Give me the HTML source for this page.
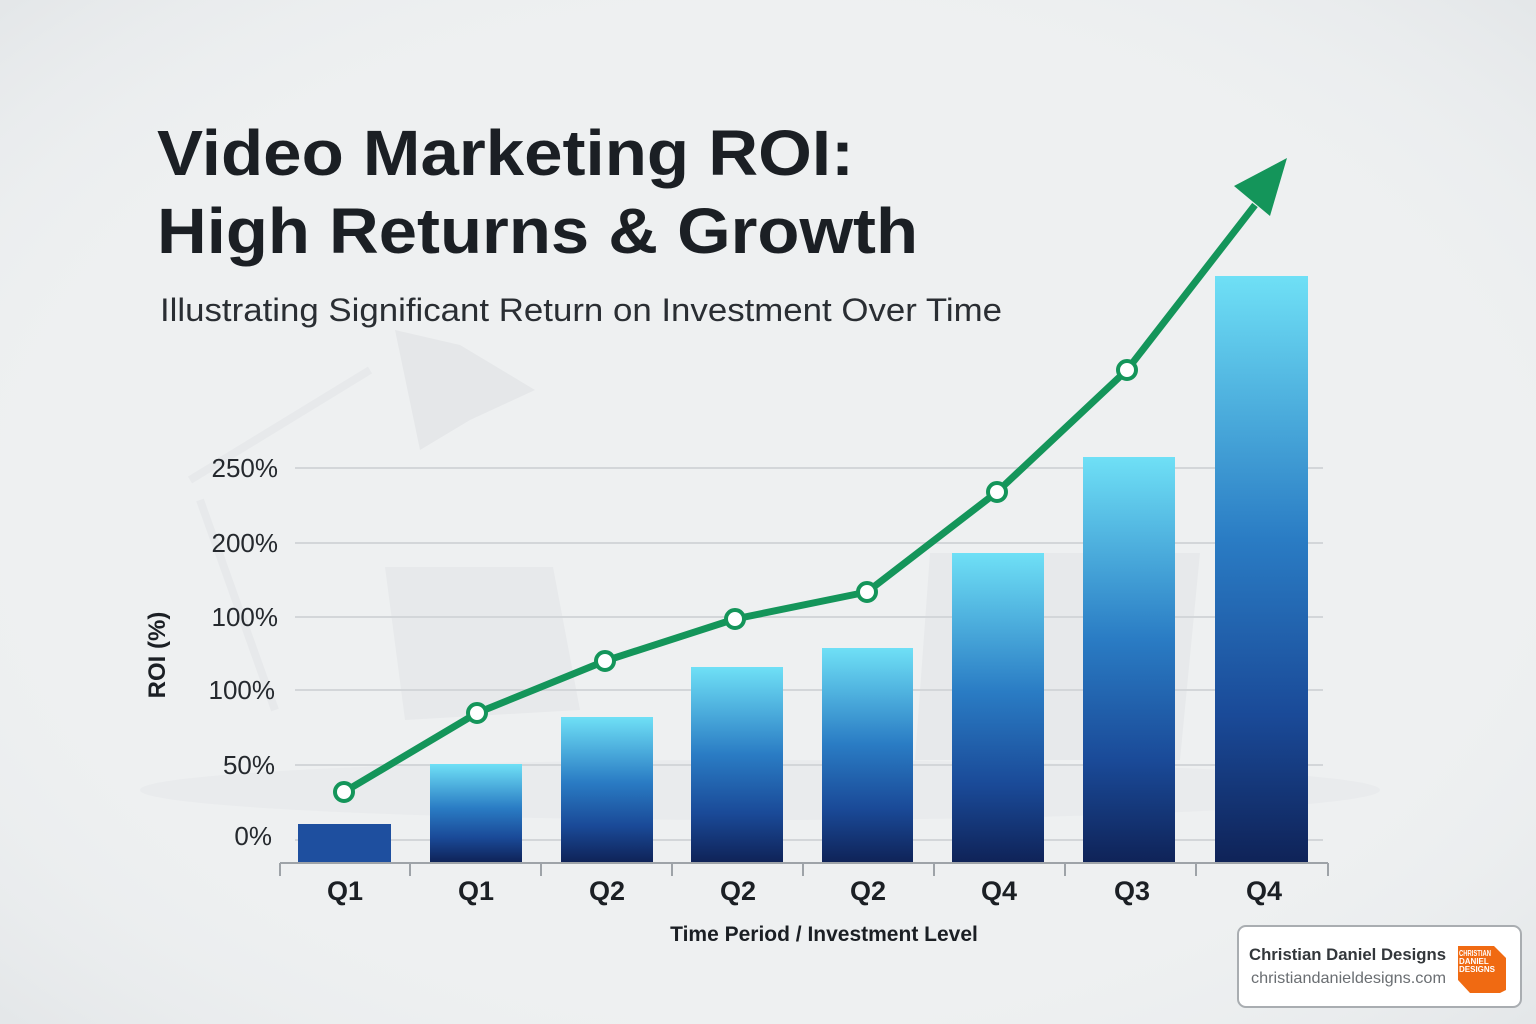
<!DOCTYPE html>
<html><head><meta charset="utf-8"><style>
html,body{margin:0;padding:0;width:1536px;height:1024px;overflow:hidden;background:#eef0f1;}
svg{display:block;font-family:"Liberation Sans",sans-serif;}
</style></head><body>
<svg width="1536" height="1024" viewBox="0 0 1536 1024" xmlns="http://www.w3.org/2000/svg">
<defs>
<linearGradient id="bg" x1="0" y1="0" x2="0" y2="1">
<stop offset="0" stop-color="#6fe0f6"/><stop offset="0.45" stop-color="#2a7cc4"/><stop offset="0.75" stop-color="#1a4a98"/><stop offset="1" stop-color="#0f2358"/>
</linearGradient>
<radialGradient id="vig" cx="0.5" cy="0.5" r="0.7"><stop offset="0.6" stop-color="#f0f2f3" stop-opacity="0"/><stop offset="1" stop-color="#e4e7e9"/></radialGradient>
</defs>
<rect width="1536" height="1024" fill="#eef0f1"/>
<rect width="1536" height="1024" fill="url(#vig)"/>
<!-- faint background objects -->
<path d="M395 330 L460 345 L535 390 L470 420 L420 450 Z" fill="#e5e7e9"/>
<path d="M190 480 L370 370 M200 500 L275 710" stroke="#e7e9eb" stroke-width="8" fill="none"/>
<path d="M385 567 L553 567 L580 710 L405 720 Z" fill="#e7e9eb"/>
<path d="M930 553 L1200 553 L1180 760 L915 760 Z" fill="#e7e9eb"/>
<ellipse cx="760" cy="790" rx="620" ry="30" fill="#e9ebed"/>
<!-- title -->
<text x="157" y="175" font-size="64" font-weight="bold" fill="#1b1f24" textLength="697" lengthAdjust="spacingAndGlyphs">Video Marketing ROI:</text>
<text x="157" y="253" font-size="64" font-weight="bold" fill="#1b1f24" textLength="761" lengthAdjust="spacingAndGlyphs">High Returns &amp; Growth</text>
<text x="160" y="321" font-size="32" fill="#2a2e33" textLength="842" lengthAdjust="spacingAndGlyphs">Illustrating Significant Return on Investment Over Time</text>
<!-- grid -->
<g stroke="#d3d6d9" stroke-width="2">
<line x1="295" y1="468" x2="1323" y2="468"/><line x1="295" y1="543" x2="1323" y2="543"/>
<line x1="295" y1="617" x2="1323" y2="617"/><line x1="295" y1="690" x2="1323" y2="690"/>
<line x1="295" y1="765" x2="1323" y2="765"/><line x1="295" y1="840" x2="1323" y2="840"/>
</g>
<g font-size="26" fill="#25292e" text-anchor="end">
<text x="278" y="477">250%</text><text x="278" y="552">200%</text><text x="278" y="626">100%</text>
<text x="275" y="699">100%</text><text x="275" y="774">50%</text><text x="272" y="845">0%</text>
</g>
<text transform="translate(165,655) rotate(-90)" font-size="24" font-weight="bold" fill="#1b1f24" text-anchor="middle">ROI (%)</text>
<!-- bars -->
<rect x="298" y="824" width="93" height="38" fill="#1e4f9f"/>
<rect x="430" y="764" width="92" height="98" fill="url(#bg)"/>
<rect x="561" y="717" width="92" height="145" fill="url(#bg)"/>
<rect x="691" y="667" width="92" height="195" fill="url(#bg)"/>
<rect x="822" y="648" width="91" height="214" fill="url(#bg)"/>
<rect x="952" y="553" width="92" height="309" fill="url(#bg)"/>
<rect x="1083" y="457" width="92" height="405" fill="url(#bg)"/>
<rect x="1215" y="276" width="93" height="586" fill="url(#bg)"/>
<!-- axis -->
<g stroke="#9ea3a8" stroke-width="2">
<line x1="280" y1="863" x2="1328" y2="863"/>
<line x1="280" y1="863" x2="280" y2="876"/><line x1="410" y1="863" x2="410" y2="876"/>
<line x1="541" y1="863" x2="541" y2="876"/><line x1="672" y1="863" x2="672" y2="876"/>
<line x1="803" y1="863" x2="803" y2="876"/><line x1="934" y1="863" x2="934" y2="876"/>
<line x1="1065" y1="863" x2="1065" y2="876"/><line x1="1196" y1="863" x2="1196" y2="876"/>
<line x1="1328" y1="863" x2="1328" y2="876"/>
</g>
<g font-size="27" font-weight="bold" fill="#1b1f24" text-anchor="middle">
<text x="345" y="900">Q1</text><text x="476" y="900">Q1</text><text x="607" y="900">Q2</text><text x="738" y="900">Q2</text>
<text x="868" y="900">Q2</text><text x="999" y="900">Q4</text><text x="1132" y="900">Q3</text><text x="1264" y="900">Q4</text>
</g>
<text x="824" y="941" font-size="21" font-weight="bold" fill="#1b1f24" text-anchor="middle">Time Period / Investment Level</text>
<!-- line -->
<polyline points="344,792 477,713 605,661 735,619 867,592 997,492 1127,370 1255,205" fill="none" stroke="#14955a" stroke-width="7" stroke-linejoin="round"/>
<polygon points="1287,158 1234,186 1270,216" fill="#14955a"/>
<g fill="#fff" stroke="#14955a" stroke-width="4">
<circle cx="344" cy="792" r="9"/><circle cx="477" cy="713" r="9"/><circle cx="605" cy="661" r="9"/>
<circle cx="735" cy="619" r="9"/><circle cx="867" cy="592" r="9"/><circle cx="997" cy="492" r="9"/><circle cx="1127" cy="370" r="9"/>
</g>
<!-- logo -->
<rect x="1238" y="926" width="283" height="81" rx="8" fill="#fff" stroke="#a9adb1" stroke-width="2"/>
<text x="1249" y="960" font-size="17" font-weight="bold" fill="#33373b" textLength="197" lengthAdjust="spacingAndGlyphs">Christian Daniel Designs</text>
<text x="1251" y="983" font-size="16" fill="#6a6e72" textLength="195" lengthAdjust="spacingAndGlyphs">christiandanieldesigns.com</text>
<path d="M1458 946 L1494 946 L1506 958 L1506 990 L1500 993 L1470 993 L1458 980 Z" fill="#f06a12"/>
<text x="1459" y="956" font-size="8" font-weight="bold" fill="#fff" textLength="32" lengthAdjust="spacingAndGlyphs">CHRISTIAN</text>
<text x="1459" y="964" font-size="8" font-weight="bold" fill="#fff">DANIEL</text>
<text x="1459" y="972" font-size="8" font-weight="bold" fill="#fff">DESIGNS</text>
</svg>
</body></html>
